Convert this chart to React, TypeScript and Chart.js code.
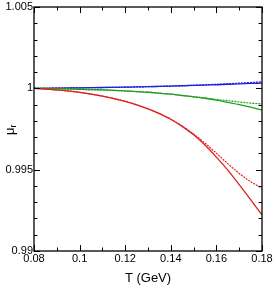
import React, { useEffect, useRef } from "react";
import { Chart, registerables } from "chart.js";

Chart.register(...registerables);

const T = [0.08, 0.09, 0.1, 0.11, 0.12, 0.125, 0.13, 0.135, 0.14, 0.145, 0.15, 0.155, 0.16, 0.165, 0.17, 0.175, 0.18];
const redSolid = [1.0, 0.9999, 0.99975, 0.99952, 0.9992, 0.99899, 0.99874, 0.99845, 0.9981, 0.99766, 0.99714, 0.99652, 0.99577, 0.99497, 0.99408, 0.99316, 0.99222];
const redDashed = [1.0, 0.9999, 0.99975, 0.99952, 0.9992, 0.99899, 0.99874, 0.99845, 0.9981, 0.99768, 0.99719, 0.99663, 0.99601, 0.99537, 0.99477, 0.99426, 0.99386];
const greenSolid = [1.0, 0.99998, 0.99994, 0.9999, 0.99984, 0.9998, 0.99976, 0.9997, 0.99964, 0.99956, 0.99948, 0.99939, 0.99928, 0.99914, 0.999, 0.99884, 0.99867];
const greenDashed = [1.0, 0.99998, 0.99994, 0.9999, 0.99984, 0.9998, 0.99976, 0.9997, 0.99964, 0.99956, 0.99949, 0.99941, 0.99932, 0.99924, 0.99916, 0.99909, 0.99904];
const blueSolid = [1.0, 1.00001, 1.00003, 1.00005, 1.00007, 1.00009, 1.0001, 1.00012, 1.00014, 1.00016, 1.00018, 1.0002, 1.00022, 1.00025, 1.00027, 1.0003, 1.00032];
const blueDashed = [1.0, 1.00001, 1.00003, 1.00005, 1.00007, 1.00009, 1.0001, 1.00012, 1.00014, 1.00016, 1.00019, 1.00022, 1.00025, 1.00028, 1.00032, 1.00036, 1.0004];

const xMin = 0.08, xMax = 0.18, xMajor = 0.02, xMinor = 0.01;
const yMin = 0.99, yMax = 1.005, yMajor = 0.005, yMinor = 0.001;
const xTickLabels = ["0.08", "0.1", "0.12", "0.14", "0.16", "0.18"];
const yTickLabels = ["0.99", "0.995", "1", "1.005"];
const xTitle = "T (GeV)";
const yTitleMain = "μ";
const yTitleSub = "r";

const RED = "rgb(222,32,32)";
const GREEN = "rgb(30,160,30)";
const BLUE = "rgb(30,30,220)";
const FONT = "'Liberation Sans', Arial, sans-serif";

const pts = (ys: number[]) => T.map((t, i) => ({ x: t, y: ys[i] }));

const framePlugin = {
  id: "frame",
  afterDraw(chart: any) {
    const { ctx, chartArea: a, scales } = chart;
    const xs = scales.x, ys = scales.y;
    ctx.save();
    ctx.strokeStyle = "#000";
    ctx.lineWidth = 1.3;
    ctx.strokeRect(a.left, a.top, a.right - a.left, a.bottom - a.top);
    ctx.lineWidth = 1;
    const maj = 6, mnr = 3.5;
    const eps = 1e-9;
    for (let v = xMin; v <= xMax + eps; v += xMinor) {
      const k = Math.round((v - xMin) / xMinor);
      const len = k % Math.round(xMajor / xMinor) === 0 ? maj : mnr;
      const px = Math.round(xs.getPixelForValue(v)) + 0.5;
      ctx.beginPath();
      ctx.moveTo(px, a.bottom); ctx.lineTo(px, a.bottom - len);
      ctx.moveTo(px, a.top); ctx.lineTo(px, a.top + len);
      ctx.stroke();
    }
    for (let v = yMin; v <= yMax + eps; v += yMinor) {
      const k = Math.round((v - yMin) / yMinor);
      const len = k % Math.round(yMajor / yMinor) === 0 ? maj : mnr;
      const py = Math.round(ys.getPixelForValue(v)) + 0.5;
      ctx.beginPath();
      ctx.moveTo(a.left, py); ctx.lineTo(a.left + len, py);
      ctx.moveTo(a.right, py); ctx.lineTo(a.right - len, py);
      ctx.stroke();
    }
    ctx.fillStyle = "#000";
    ctx.font = `11px ${FONT}`;
    ctx.textAlign = "center";
    ctx.textBaseline = "top";
    xTickLabels.forEach((lab) => {
      ctx.fillText(lab, xs.getPixelForValue(parseFloat(lab)), a.bottom + 2);
    });
    ctx.textAlign = "right";
    ctx.textBaseline = "middle";
    yTickLabels.forEach((lab) => {
      ctx.fillText(lab, a.left - 1, ys.getPixelForValue(parseFloat(lab)));
    });
    ctx.font = `13px ${FONT}`;
    ctx.textAlign = "center";
    ctx.textBaseline = "middle";
    ctx.fillText(xTitle, (a.left + a.right) / 2, 278);
    ctx.translate(10, 130);
    ctx.rotate(-Math.PI / 2);
    ctx.textAlign = "left";
    ctx.fillText(yTitleMain, -5, 0);
    const w = ctx.measureText(yTitleMain).width;
    ctx.font = `9px ${FONT}`;
    ctx.fillText(yTitleSub, -5 + w, 4);
    ctx.restore();
  },
};

export default function App() {
  const ref = useRef<HTMLCanvasElement>(null);
  useEffect(() => {
    document.body.style.margin = "0";
    const mk = (label: string, data: number[], color: string, dashed: boolean) => ({
      label,
      data: pts(data),
      borderColor: color,
      backgroundColor: color,
      borderWidth: dashed ? 1.2 : 1.3,
      borderDash: dashed ? [2, 1] : [],
      pointRadius: 0,
      cubicInterpolationMode: "monotone" as const,
      fill: false,
    });
    const chart = new Chart(ref.current!, {
      type: "line",
      data: {
        datasets: [
          mk("red dashed", redDashed, RED, true),
          mk("red", redSolid, RED, false),
          mk("green dashed", greenDashed, GREEN, true),
          mk("green", greenSolid, GREEN, false),
          mk("blue dashed", blueDashed, BLUE, true),
          mk("blue", blueSolid, BLUE, false),
        ],
      },
      options: {
        animation: false,
        responsive: false,
        maintainAspectRatio: false,
        layout: { padding: { left: 34, right: 14, top: 7, bottom: 41 } },
        plugins: { legend: { display: false }, tooltip: { enabled: false } },
        scales: {
          x: {
            type: "linear",
            min: xMin,
            max: xMax,
            grid: { display: false, drawTicks: false },
            border: { display: false },
            ticks: { display: false },
          },
          y: {
            type: "linear",
            min: yMin,
            max: yMax,
            grid: { display: false, drawTicks: false },
            border: { display: false },
            ticks: { display: false },
          },
        },
      },
      plugins: [framePlugin],
    });
    return () => chart.destroy();
  }, []);
  return <canvas ref={ref} width={276} height={292} style={{ display: "block" }} />;
}
